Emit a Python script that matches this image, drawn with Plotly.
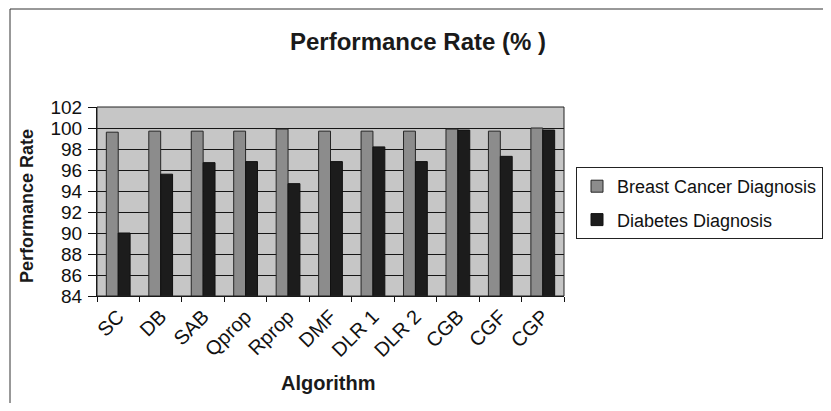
import plotly.graph_objects as go

algorithms = ["SC", "DB", "SAB", "Qprop", "Rprop", "DMF", "DLR 1", "DLR 2", "CGB", "CGF", "CGP"]
breast_cancer = [99.6, 99.7, 99.7, 99.7, 99.9, 99.7, 99.7, 99.7, 99.9, 99.7, 100.0]
diabetes = [90.0, 95.6, 96.7, 96.8, 94.7, 96.8, 98.2, 96.8, 99.8, 97.3, 99.8]
y_ticks = [84, 86, 88, 90, 92, 94, 96, 98, 100, 102]

# page body has an 8px margin: size the figure so the page does not scroll,
# and work in screen pixels shifted by that margin
OFF = 8
W, H = 831 - 2 * OFF, 411 - 2 * OFF
PL, PR, PT, PB = 97, 564, 107, 296  # plot area in screen px
L = PL - OFF
T = PT - OFF
pw = PR - PL
ph = PB - PT
R = W - L - pw
B = H - T - ph

def px_x(x):
    return (x - PL) / pw

def px_y(y):
    return (PB - y) / ph

font = "Liberation Sans, Arial, sans-serif"

fig = go.Figure()
fig.add_trace(go.Bar(x=algorithms, y=breast_cancer, name="Breast Cancer Diagnosis", legendgroup="a",
                     marker=dict(color="#8c8c8c", line=dict(color="#262626", width=1))))
fig.add_trace(go.Bar(x=algorithms, y=diabetes, name="Diabetes Diagnosis", legendgroup="b",
                     marker=dict(color="#1c1c1c", line=dict(color="#111111", width=1))))

fig.update_layout(
    width=W, height=H,
    margin=dict(l=L, r=R, t=T, b=B, autoexpand=False),
    paper_bgcolor="white",
    plot_bgcolor="#c6c6c6",
    barmode="group", bargap=0.44, bargroupgap=0,
    font=dict(family=font, color="#111111", size=19),
    title=dict(text="<b>Performance Rate (% )</b>", x=px_x(418), xref="paper", xanchor="center",
               y=1 - (42 - OFF) / H, yanchor="middle", font=dict(size=24, family=font, color="#1a1a1a")),
    legend=dict(x=px_x(576), y=px_y(203), xref="paper", yref="paper", xanchor="left", yanchor="middle",
                bgcolor="white", bordercolor="#222222", borderwidth=1, itemwidth=30,
                font=dict(size=18, family=font, color="#111111"), tracegroupgap=7),
    xaxis=dict(
        tickangle=-45, tickfont=dict(size=20, family=font),
        tickson="boundaries", ticks="outside", ticklen=5, tickcolor="#111111",
        showline=True, linecolor="#111111", linewidth=1, showgrid=False,
    ),
    yaxis=dict(
        range=[84, 102], tickvals=y_ticks, tickfont=dict(size=19, family=font),
        ticks="outside", ticklen=8, tickcolor="#111111", ticklabelstandoff=2,
        showline=True, linecolor="#111111", linewidth=1,
        showgrid=True, gridcolor="#151515", gridwidth=1.3, zeroline=False,
    ),
    annotations=[
        dict(text="<b>Algorithm</b>", xref="paper", yref="paper", x=px_x(328), y=px_y(383),
             xanchor="center", yanchor="middle", showarrow=False, font=dict(size=20, family=font, color="#1a1a1a")),
        dict(text="<b>Performance Rate</b>", xref="paper", yref="paper", x=px_x(27), y=px_y(206),
             xanchor="center", yanchor="middle", textangle=-90, showarrow=False,
             font=dict(size=18, family=font, color="#1a1a1a")),
    ],
    shapes=[
        dict(type="line", xref="paper", yref="paper", x0=px_x(10), x1=px_x(840), y0=px_y(9), y1=px_y(9),
             line=dict(color="#333333", width=1)),
        dict(type="line", xref="paper", yref="paper", x0=px_x(10), x1=px_x(10), y0=px_y(9), y1=px_y(420),
             line=dict(color="#333333", width=1)),
        dict(type="rect", xref="paper", yref="paper", x0=0, x1=1, y0=0, y1=1,
             line=dict(color="#222222", width=1)),
    ],
)

fig.write_html("out.html")
